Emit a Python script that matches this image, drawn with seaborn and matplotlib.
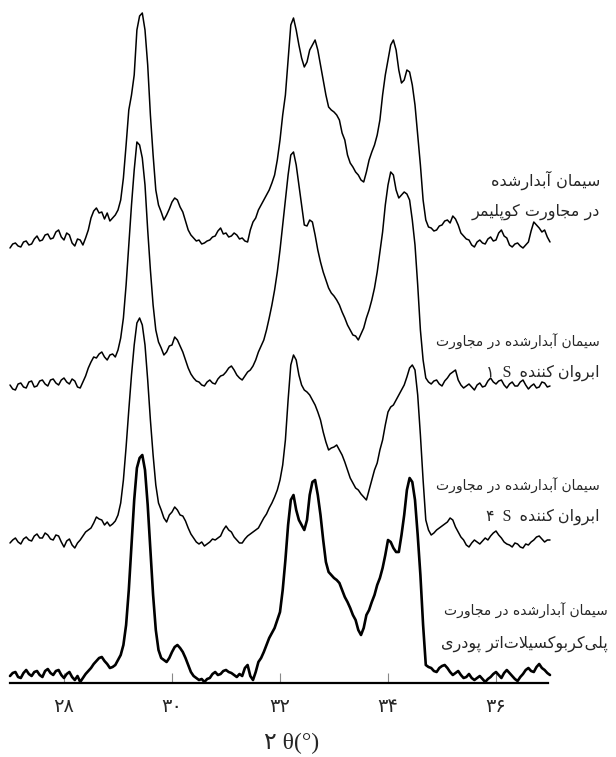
import matplotlib
matplotlib.use('Agg')
import matplotlib.pyplot as plt
import seaborn as sns
import numpy as np
import pandas as pd

# 2theta grid (deg), step 0.05; intensities (a.u.) above each trace's own baseline
two_theta = np.round(np.arange(27.0, 37.001, 0.05), 2)

copolymer = [-3, 1, 2, -1, -2, 3, 4, 0, 1, 6,
             9, 4, 5, 10, 11, 6, 7, 13, 15, 8,
             5, 12, 10, 2, -1, 6, 5, 0, 7, 15,
             27, 34, 37, 32, 33, 26, 32, 24, 27, 30,
             35, 45, 67, 100, 135, 150, 170, 215, 229, 232,
             215, 180, 130, 90, 55, 40, 33, 25, 30, 36,
             43, 47, 45, 38, 33, 24, 15, 10, 7, 4,
             5, 1, 2, 4, 5, 8, 9, 14, 17, 11,
             12, 8, 9, 12, 10, 6, 7, 4, 3, 15,
             23, 27, 35, 40, 45, 50, 55, 62, 70, 85,
             105, 130, 150, 185, 220, 227, 215, 200, 187, 178,
             183, 195, 200, 205, 195, 180, 165, 150, 138, 135,
             133, 130, 125, 112, 105, 90, 82, 78, 73, 70,
             65, 63, 73, 85, 93, 100, 110, 125, 150, 170,
             185, 200, 205, 195, 175, 162, 165, 175, 173, 160,
             140, 110, 80, 45, 25, 18, 17, 14, 15, 19,
             20, 24, 25, 22, 29, 26, 20, 12, 9, 6,
             5, 0, -2, 3, 5, 2, 1, 6, 8, 4,
             5, 12, 15, 9, 7, 0, -2, 1, 2, -1,
             -3, 0, 3, 14, 23, 20, 17, 13, 15, 8,
             3]

s1 = [5, 1, 0, 6, 7, 3, 2, 8, 9, 3,
      4, 9, 10, 6, 4, 10, 11, 7, 5, 10,
      12, 8, 6, 11, 9, 3, 2, 8, 14, 22,
      28, 33, 32, 36, 38, 33, 30, 35, 36, 33,
      40, 52, 72, 105, 145, 185, 220, 248, 245, 232,
      205, 160, 120, 85, 60, 48, 42, 35, 38, 44,
      45, 53, 50, 44, 38, 30, 22, 16, 12, 9,
      8, 5, 4, 8, 10, 7, 6, 11, 14, 15,
      18, 22, 24, 20, 15, 12, 10, 14, 18, 20,
      24, 30, 38, 44, 50, 60, 72, 85, 100, 118,
      140, 165, 190, 215, 235, 238, 225, 205, 185, 165,
      164, 170, 168, 155, 140, 128, 118, 110, 102, 97,
      94, 90, 85, 78, 72, 65, 60, 55, 54, 50,
      56, 62, 72, 80, 90, 102, 118, 138, 158, 185,
      205, 218, 215, 200, 192, 195, 198, 196, 190, 170,
      145, 105, 60, 30, 12, 8, 6, 9, 10, 6,
      4, 9, 12, 16, 18, 20, 10, 5, 2, 4,
      6, 3, 0, 5, 7, 3, 4, 9, 12, 8,
      6, 9, 10, 5, 2, 6, 8, 4, 4, 8,
      10, 5, 1, 4, 6, 2, 3, 8, 7, 3,
      4]

s4 = [2, 5, 7, 3, 1, 6, 8, 5, 4, 9,
      11, 7, 7, 12, 10, 6, 5, 10, 9, 3,
      -2, 4, 6, 0, -3, 2, 5, 9, 13, 15,
      17, 22, 28, 26, 25, 20, 23, 19, 21, 24,
      30, 42, 65, 98, 135, 170, 200, 222, 227, 220,
      200, 165, 125, 90, 60, 42, 35, 27, 23, 30,
      33, 38, 35, 30, 29, 24, 17, 11, 7, 3,
      1, 3, -1, 1, 3, 6, 5, 7, 9, 15,
      19, 15, 13, 8, 5, 2, 2, 6, 9, 11,
      13, 15, 17, 22, 27, 31, 37, 42, 48, 55,
      65, 80, 105, 145, 180, 190, 185, 170, 160, 155,
      153, 150, 145, 140, 133, 125, 113, 103, 95, 97,
      98, 100, 95, 90, 83, 75, 67, 62, 57, 55,
      51, 48, 45, 55, 65, 75, 82, 95, 105, 120,
      133, 138, 140, 145, 150, 155, 160, 168, 177, 180,
      175, 150, 110, 65, 25, 15, 10, 12, 15, 17,
      19, 21, 23, 27, 25, 18, 13, 8, 5, 0,
      -2, 2, 5, 3, 1, 4, 7, 5, 9, 12,
      14, 10, 7, 3, 1, 0, -2, 2, 1, -2,
      -3, 1, 0, 3, 5, 8, 9, 6, 3, 5,
      5]

powder = [4, 7, 8, 3, 2, 7, 10, 6, 4, 8,
          9, 5, 3, 9, 11, 7, 5, 9, 10, 5,
          2, 6, 8, 3, 0, 4, -2, 2, 6, 9,
          12, 16, 19, 22, 23, 19, 16, 12, 13, 15,
          20, 25, 35, 55, 90, 135, 180, 212, 222, 225,
          210, 175, 130, 85, 50, 30, 22, 20, 18, 22,
          28, 33, 35, 32, 28, 22, 15, 8, 4, 2,
          0, 1, -2, 1, 2, 6, 8, 5, 6, 9,
          10, 8, 7, 5, 3, 6, 4, 12, 15, 4,
          0, 8, 18, 22, 28, 35, 42, 47, 52, 60,
          68, 90, 120, 155, 180, 185, 170, 160, 155, 150,
          160, 185, 198, 200, 185, 165, 140, 118, 108, 105,
          102, 100, 97, 90, 83, 78, 72, 65, 60, 50,
          45, 52, 65, 70, 78, 85, 95, 102, 112, 125,
          140, 138, 132, 128, 128, 145, 165, 190, 202, 198,
          180, 145, 105, 55, 15, 13, 12, 9, 8, 12,
          14, 15, 12, 8, 5, 7, 9, 5, 2, 3,
          6, 2, 0, 2, 4, 1, -2, 1, 3, 6,
          8, 5, 2, 7, 10, 7, 4, 1, -1, 3,
          6, 10, 12, 9, 8, 13, 16, 12, 10, 7,
          5]

samples = ['copolymer', 'S1', 'S4', 'powder']
series = [copolymer, s1, s4, powder]

# Persian labels (logical order)
labels = [
    ['سیمان آبدارشده', 'در مجاورت کوپلیمر'],
    ['سیمان آبدارشده در مجاورت', 'ابروان کننده  S  ۱'],
    ['سیمان آبدارشده در مجاورت', 'ابروان کننده  S  ۴'],
    ['سیمان آبدارشده در مجاورت', 'پلی\u200cکربوکسیلات\u200cاتر پودری'],
]
tick_vals = [28, 30, 32, 34, 36]
tick_text = ['۲۸', '۳۰', '۳۲', '۳۴', '۳۶']
x_title = '۲ θ(°)'

# minimal Arabic-script shaping (matplotlib has no shaping / bidi)
FORMS = {
    'ا': ('\uFE8D', '\uFE8E', None, None),
    'آ': ('\uFE81', '\uFE82', None, None),
    'ب': ('\uFE8F', '\uFE90', '\uFE91', '\uFE92'),
    'پ': ('\uFB56', '\uFB57', '\uFB58', '\uFB59'),
    'ت': ('\uFE95', '\uFE96', '\uFE97', '\uFE98'),
    'ج': ('\uFE9D', '\uFE9E', '\uFE9F', '\uFEA0'),
    'د': ('\uFEA9', '\uFEAA', None, None),
    'ر': ('\uFEAD', '\uFEAE', None, None),
    'س': ('\uFEB1', '\uFEB2', '\uFEB3', '\uFEB4'),
    'ش': ('\uFEB5', '\uFEB6', '\uFEB7', '\uFEB8'),
    'ک': ('\uFB8E', '\uFB8F', '\uFB90', '\uFB91'),
    'ل': ('\uFEDD', '\uFEDE', '\uFEDF', '\uFEE0'),
    'م': ('\uFEE1', '\uFEE2', '\uFEE3', '\uFEE4'),
    'ن': ('\uFEE5', '\uFEE6', '\uFEE7', '\uFEE8'),
    'ه': ('\uFEE9', '\uFEEA', '\uFEEB', '\uFEEC'),
    'و': ('\uFEED', '\uFEEE', None, None),
    'ی': ('\uFBFC', '\uFBFD', '\uFBFE', '\uFBFF'),
}
LAM_ALEF = {'ا': ('\uFEFB', '\uFEFC'), 'آ': ('\uFEF5', '\uFEF6')}


def dual(c):
    return c in FORMS and FORMS[c][2] is not None


def rtl(text):
    out = []
    i = 0
    while i < len(text):
        c = text[i]
        if c == '\u200c':
            i += 1
            continue
        if c not in FORMS:
            out.append(c)
            i += 1
            continue
        prev = text[i - 1] if i > 0 else ''
        link_prev = dual(prev)
        nxt = text[i + 1] if i + 1 < len(text) else ''
        if c == 'ل' and nxt in LAM_ALEF:
            out.append(LAM_ALEF[nxt][1 if link_prev else 0])
            i += 2
            continue
        link_next = dual(c) and nxt in FORMS
        iso, fin, ini, med = FORMS[c]
        if link_prev and link_next:
            out.append(med)
        elif link_prev:
            out.append(fin)
        elif link_next:
            out.append(ini)
        else:
            out.append(iso)
        i += 1
    return ''.join(out)[::-1]


sns.set_theme(style='white')
plt.rcParams['font.family'] = ['DejaVu Sans']

W, H = 616, 757
fig = plt.figure(figsize=(W / 100, H / 100), dpi=100)
ax = fig.add_axes([10 / W, (H - 683) / H, 538 / W, 683 / H])

offsets = [438, 293, 138, 3]
widths = [1.1, 1.1, 1.1, 1.9]
for name, vals, off, lw in zip(samples, series, offsets, widths):
    df = pd.DataFrame({'two_theta': two_theta, 'intensity': np.array(vals) + off})
    sns.lineplot(data=df, x='two_theta', y='intensity', estimator=None,
                 color='black', lw=lw, ax=ax, clip_on=False)

ax.set_xlim(27.0, 36.963)
ax.set_ylim(0, 683)
ax.set_yticks([])
ax.set_xlabel('')
ax.set_ylabel('')
for s in ['top', 'left', 'right']:
    ax.spines[s].set_visible(False)
ax.spines['bottom'].set_color('black')
ax.spines['bottom'].set_linewidth(1.6)
ax.set_xticks(tick_vals)
ax.set_xticklabels(tick_text, fontsize=14)
ax.tick_params(axis='x', direction='in', length=7, width=0.8, color='#888888',
               pad=10, bottom=True)

fig.text(292 / W, 1 - 743 / H, x_title, ha='center', va='center', fontsize=17,
         family=['Liberation Serif', 'DejaVu Sans'])

serif_mix = ['Liberation Serif', 'DejaVu Sans']
label_pos = [(600, 180, 212), (600, 342, 373), (600, 486, 517), (608, 611, 644)]
label_size = [(11.5, 11.5), (10, 11.5), (10, 11.5), (10, 11.5)]
for k, (lines, (xr, y1, y2), sizes) in enumerate(zip(labels, label_pos, label_size)):
    for j, (txt, yy, fs) in enumerate(zip(lines, (y1, y2), sizes)):
        fam = serif_mix if (k in (1, 2) and j == 1) else ['DejaVu Sans']
        fig.text(xr / W, 1 - yy / H, rtl(txt), ha='right', va='center',
                 fontsize=fs, family=fam)

fig.savefig('out.png', dpi=100)
